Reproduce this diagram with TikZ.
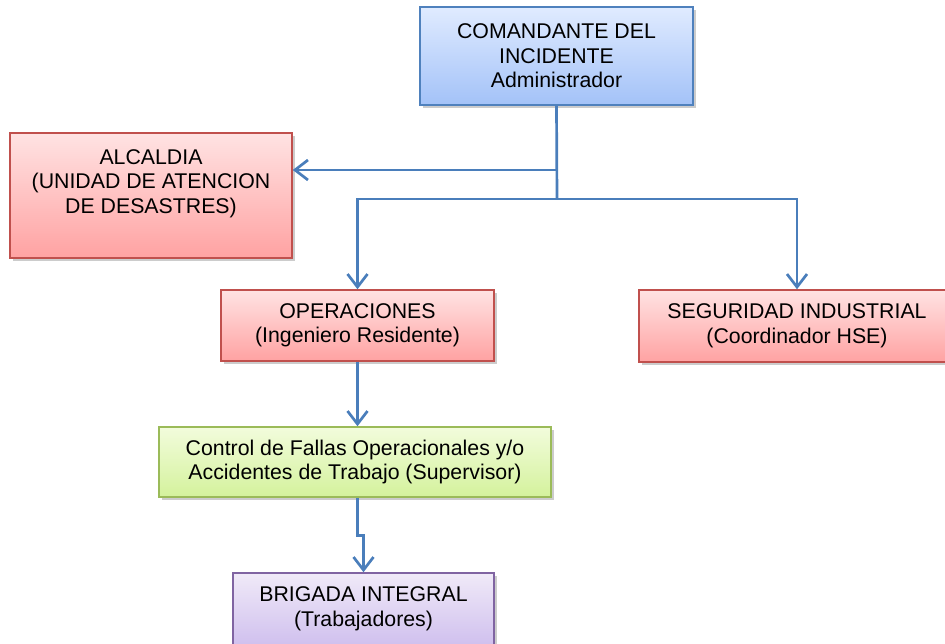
\documentclass[tikz,border=0pt]{standalone}
\usepackage{fontspec}
\setmainfont{Liberation Sans}
\usetikzlibrary{arrows.meta,shadows}
\definecolor{linkblue}{HTML}{4A7EBB}
\definecolor{cmdedge}{HTML}{4F81BD}
\definecolor{cmdtop}{HTML}{E0EBFF}
\definecolor{cmdbot}{HTML}{A3C2F8}
\definecolor{redge}{HTML}{C0504D}
\definecolor{redtop}{HTML}{FFE3E3}
\definecolor{redbot}{HTML}{FFA2A2}
\definecolor{gedge}{HTML}{9BBB59}
\definecolor{gtop}{HTML}{F2FCDC}
\definecolor{gbot}{HTML}{D4F29C}
\definecolor{pedge}{HTML}{8064A2}
\definecolor{ptop}{HTML}{F0EAF8}
\definecolor{pbot}{HTML}{D0C0EE}

\begin{document}
\begin{tikzpicture}[x=1pt,y=-1pt,
  box/.style={line width=1.5pt,align=center,inner sep=2pt,
    font=\fontsize{21.3}{24.5}\selectfont,
    drop shadow={shadow xshift=2.5pt,shadow yshift=-3pt,opacity=0.4}},
  cmdbox/.style={box,draw=cmdedge,top color=cmdtop,bottom color=cmdbot},
  redbox/.style={box,draw=redge,top color=redtop,bottom color=redbot},
  greenbox/.style={box,draw=gedge,top color=gtop,bottom color=gbot},
  purplebox/.style={box,draw=pedge,top color=ptop,bottom color=pbot},
  link/.style={draw=linkblue,line width=2.7pt},
  arr/.style={link,-{Straight Barb[length=13pt,width=20pt]}}]
  \useasboundingbox (0,0) rectangle (945,644);
  \node[cmdbox,minimum width=273pt,minimum height=98pt] (cmd) at (556.5,56)
    {COMANDANTE DEL\\INCIDENTE\\Administrador};
  \node[redbox,minimum width=282pt,minimum height=125pt] (alc) at (151,195.5)
    {ALCALDIA\\(UNIDAD DE ATENCION\\DE DESASTRES)\\[4pt]\mbox{}};
  \node[redbox,minimum width=273pt,minimum height=71pt] (ops) at (357.5,325.5)
    {OPERACIONES\\(Ingeniero Residente)};
  \node[redbox,minimum width=316pt,minimum height=72pt] (seg) at (797,326)
    {SEGURIDAD INDUSTRIAL\\(Coordinador HSE)};
  \node[greenbox,minimum width=392pt,minimum height=70pt] (ctl) at (355,462)
    {Control de Fallas Operacionales y/o\\Accidentes de Trabajo (Supervisor)};
  \node[purplebox,minimum width=261pt,minimum height=72pt] (brg) at (363.5,609)
    {BRIGADA INTEGRAL\\(Trabajadores)};
  \coordinate (branch) at (557,170);
  \coordinate (split) at (557,199);
  \draw[link] (cmd.south) -- (split);
  \draw[arr] (branch) -- (branch -| alc.east);
  \draw[arr] (split) -| (ops.north);
  \draw[arr] (split) -| (seg.north);
  \draw[arr] (ops.south) -- (ops.south |- ctl.north);
  \draw[arr] (ctl.south -| ops.south) -- ++(0,38) -| (brg.north);
\end{tikzpicture}
\end{document}
